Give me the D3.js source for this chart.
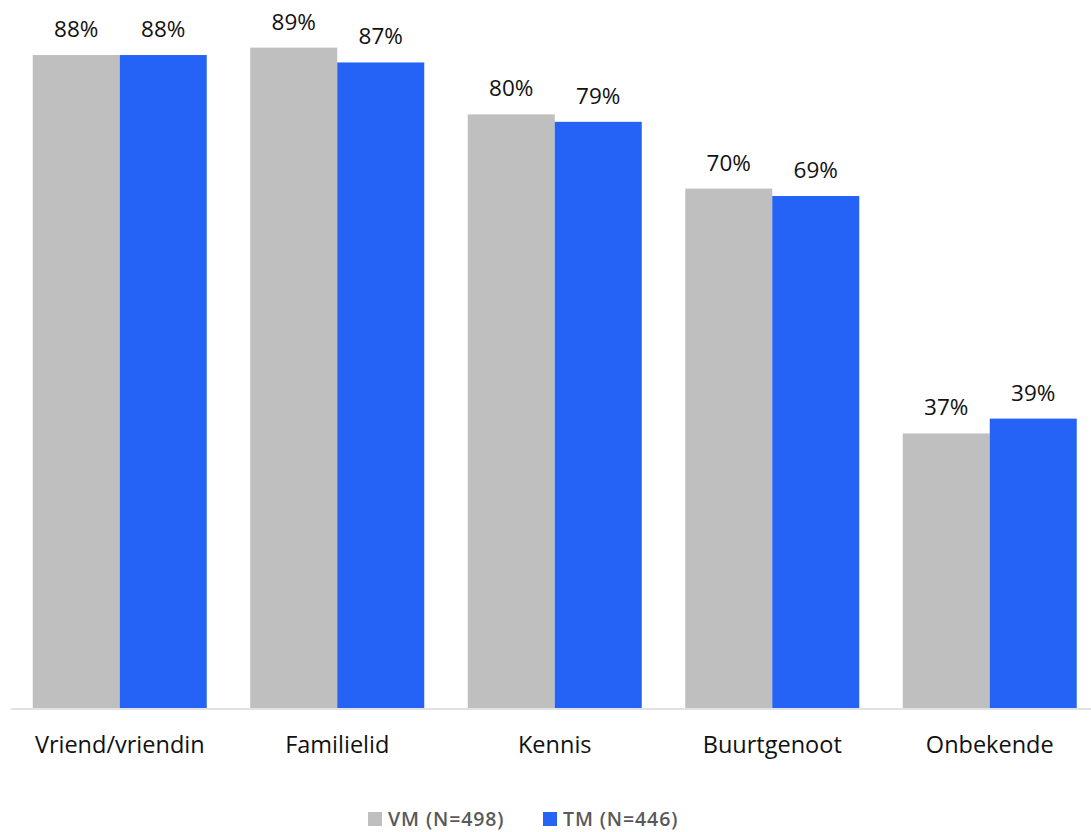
<!DOCTYPE html>
<html>
<head>
<meta charset="utf-8">
<script src="https://cdn.jsdelivr.net/npm/d3@7"></script>
<style>
  html, body { margin: 0; padding: 0; background: #fff; }
  svg { display: block; }
</style>
</head>
<body>
<svg id="chart" width="1091" height="832"></svg>
<script>
// Categories and series
const categories = ["Vriend/vriendin", "Familielid", "Kennis", "Buurtgenoot", "Onbekende"];
const seriesNames = ["VM (N=498)", "TM (N=446)"];
const vmValues = [88, 89, 80, 70, 37];
const tmValues = [88, 87, 79, 69, 39];
const seriesColors = ["#bfbfbf", "#2463f6"];

const rows = categories.map((c, i) => ({ cat: c, vals: [vmValues[i], tmValues[i]] }));

const svg = d3.select("#chart");
const font = "'Open Sans', 'Noto Sans', sans-serif";

const x0 = d3.scaleBand().domain(categories).range([11, 1098.5]).paddingInner(0.2).paddingOuter(0.1);
const x1 = d3.scaleBand().domain([0, 1]).range([0, x0.bandwidth()]);
const y = d3.scaleLinear().domain([0, 100]).range([708, -34]);

// Bars
const groups = svg.append("g").selectAll("g").data(rows).join("g")
  .attr("transform", d => `translate(${x0(d.cat)},0)`);

groups.selectAll("rect").data(d => d.vals.map((v, k) => ({ v, k }))).join("rect")
  .attr("x", d => x1(d.k))
  .attr("y", d => y(d.v))
  .attr("width", x1.bandwidth())
  .attr("height", d => y(0) - y(d.v))
  .attr("fill", d => seriesColors[d.k]);

// Value labels
groups.selectAll("text").data(d => d.vals.map((v, k) => ({ v, k }))).join("text")
  .attr("x", d => x1(d.k) + x1.bandwidth() / 2)
  .attr("y", d => y(d.v) - 18)
  .attr("text-anchor", "middle")
  .attr("font-family", font)
  .attr("font-size", 22.5)
  .attr("fill", "#111")
  .text(d => d.v + "%");

// Category axis
const xAxis = svg.append("g").attr("transform", `translate(0,${y(0) + 1})`)
  .call(d3.axisBottom(x0).tickSize(0).tickPadding(0));
xAxis.select(".domain").attr("d", "M11,0H1091").attr("stroke", "#d9d9d9").attr("stroke-width", 1.5);
xAxis.selectAll("text")
  .attr("y", 44)
  .attr("dy", 0)
  .attr("font-family", font)
  .attr("font-size", 23.5)
  .attr("fill", "#111");

// Legend
const legendItems = [
  { name: seriesNames[0], color: seriesColors[0], x: 368 },
  { name: seriesNames[1], color: seriesColors[1], x: 543 }
];
const legend = svg.append("g").selectAll("g").data(legendItems).join("g")
  .attr("transform", d => `translate(${d.x},812)`);
legend.append("rect").attr("width", 14).attr("height", 14).attr("fill", d => d.color);
legend.append("text")
  .attr("x", 20).attr("y", 14)
  .attr("font-family", font)
  .attr("font-size", 19.5)
  .attr("font-weight", 600)
  .attr("letter-spacing", 0.9)
  .attr("fill", "#595959")
  .text(d => d.name);
</script>
</body>
</html>
